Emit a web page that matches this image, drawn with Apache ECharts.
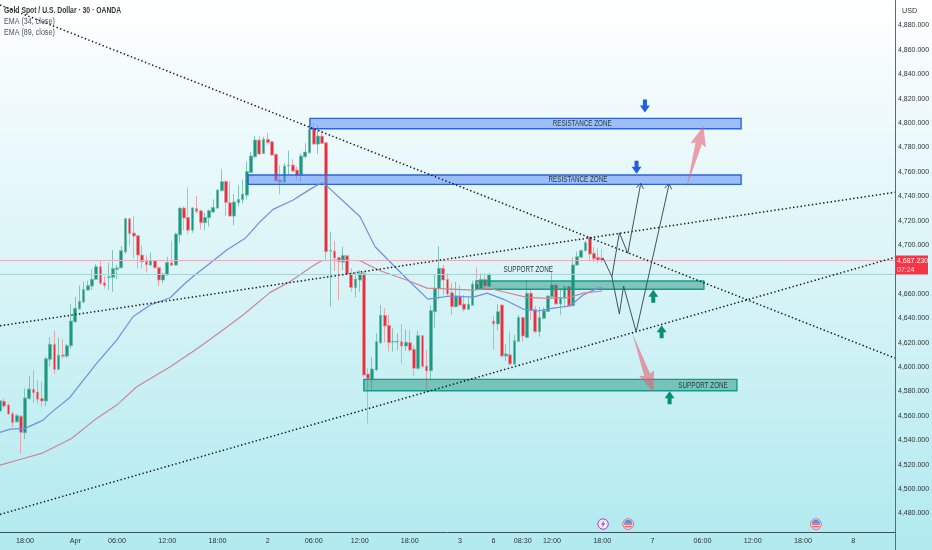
<!DOCTYPE html>
<html>
<head>
<meta charset="utf-8">
<style>html,body{margin:0;padding:0;background:#fff}#c{width:932px;height:550px}</style>
<script src="https://cdn.jsdelivr.net/npm/echarts@6/dist/echarts.min.js"></script>
</head>
<body>
<div id="c"></div>
<script>
// open, close, low, high per 30-minute bar
const candles = [
[4563.9,4572.4,4560.7,4573],[4571.9,4568,4566.1,4574.3],[4568.9,4561.5,4560.7,4570.2],[4561.8,4554.4,4550.6,4563.4],
[4555.2,4560.1,4554.4,4561.5],[4559.6,4546.5,4529.3,4560.7],[4546.2,4574.6,4541,4582.5],[4574.3,4582,4573,4592.6],
[4581.7,4579,4570.8,4597.6],[4579.5,4573.5,4570.2,4589.4],[4574.3,4572.1,4567.5,4588],[4572.1,4606.8,4568,4608.5],
[4606.3,4618.6,4600.3,4624.3],[4618.6,4598.1,4594.3,4629.8],[4598.1,4609.6,4597.6,4624.3],[4609.8,4608.8,4607.1,4622.7],
[4609,4617.5,4607.1,4618.9],[4617.5,4637.7,4615.3,4651.4],[4637.2,4648.1,4636.3,4657.7],[4647.8,4653.8,4646.7,4666.7],
[4653.3,4663.4,4652.2,4670],[4663.1,4666.7,4662.6,4670.8],[4666.4,4671.9,4663.1,4680],[4671.9,4682.2,4671.3,4684.4],
[4682.2,4668.6,4667.2,4687.2],[4669.1,4666.9,4664.2,4674.6],[4673.5,4674,4663.1,4685.5],[4673.5,4680.6,4661.8,4695.9],
[4680.1,4681.2,4671.9,4683.6],[4681.4,4695.3,4680.8,4699.1],[4694.5,4721.5,4692.6,4722.4],[4721.5,4709.5,4699.1,4722.6],
[4709.8,4707.3,4689,4723.7],[4707.6,4691.8,4680.8,4708.1],[4691.8,4686.3,4680.8,4699.9],[4686.6,4683.8,4677.5,4691.8],
[4683.6,4687.1,4683,4693.9],[4687.1,4681.4,4680.3,4687.7],[4681.4,4671.3,4666.3,4682.7],[4671.3,4676.2,4668.5,4677.3],
[4675.4,4685.7,4674.8,4690.4],[4685.5,4683.3,4682.8,4703.5],[4683.6,4709,4683,4710],[4708.4,4730.3,4701.8,4730.8],
[4730.3,4722.1,4712.2,4731.9],[4722.6,4712.2,4709,4747.2],[4712.2,4730.3,4710.1,4731],[4730,4727.5,4725.9,4740.1],
[4728.1,4718.3,4712.8,4729.2],[4718.3,4722.6,4712.2,4726.4],[4722.4,4728.1,4715,4729.2],[4727,4730.8,4726.4,4737.4],
[4730.3,4745,4729.7,4745.6],[4744.5,4751.9,4744,4762],[4752.1,4734.9,4723.7,4752.7],[4734.6,4723.7,4723.2,4752.1],
[4723.7,4735.2,4716.1,4741.7],[4734.6,4737.4,4731.4,4748.9],[4737.4,4741.7,4734.1,4753.8],[4740.9,4760.3,4737.4,4768.2],
[4759.5,4772.9,4758.7,4776.4],[4772.4,4786,4771.5,4789.3],[4786,4774.5,4773.7,4789.3],[4775.1,4786.6,4774.5,4788.7],
[4786.6,4784.1,4781.9,4792],[4784.6,4773.7,4773.2,4785.5],[4774.3,4752.7,4751.9,4775],[4753.2,4751.6,4741.5,4765.5],
[4751.6,4764.7,4751,4766.9],[4765,4765.5,4757.3,4777.3],[4765.5,4760.6,4759.5,4770.2],[4761.4,4757.3,4753.2,4764.2],
[4757.3,4772.9,4751.9,4775],[4772.4,4776.2,4771,4783.3],[4775.6,4794.8,4775,4796.9],[4794.8,4782.7,4781.9,4799.7],
[4782.7,4789.3,4774.5,4798.3],[4789.3,4783.3,4782.7,4794.2],[4783.8,4694.5,4687.7,4784.6],[4695,4695.6,4649.4,4710.9],
[4695,4689.3,4678.6,4703.5],[4689.8,4686.3,4654.9,4690.4],[4686,4691.5,4679.5,4698.6],[4691.2,4676.2,4675.4,4691.8],
[4676.7,4665.2,4661.7,4680.8],[4665,4672.1,4657.1,4678.1],[4671.3,4676.7,4661.7,4679.5],[4676.8,4593.5,4592.1,4678.1],
[4594.3,4590.7,4553.8,4598.9],[4589.9,4598.4,4581.2,4607.9],[4597.6,4620.8,4597,4627.6],[4620,4642.4,4618.9,4650.8],
[4642.4,4633.6,4620,4648.1],[4634.2,4620,4612.6,4642.6],[4620.5,4621,4612.6,4631.7],[4620.5,4621,4613.9,4627.6],
[4620.8,4617.2,4603,4635.2],[4617.2,4620.2,4613.4,4630.9],[4620,4613.9,4612.6,4630.3],[4614.5,4598.9,4592.6,4618],
[4598.9,4625.7,4597.6,4629.8],[4625.7,4600.3,4599.7,4626.3],[4600.8,4596.7,4579.8,4613.9],[4597,4646.2,4589.4,4650.6],
[4645.4,4664.5,4631.7,4676.2],[4664.5,4680.9,4655.5,4699.2],[4680.9,4671.3,4659,4683.6],[4671.9,4659.8,4657.7,4676.8],
[4660.9,4649.5,4642.6,4668.6],[4649.5,4658.2,4648.9,4669.9],[4658.2,4650.8,4650.3,4667.2],[4651.6,4647.3,4645.4,4659],
[4647.3,4651.4,4646.7,4657.7],[4650.6,4668,4650.3,4670.8],[4668,4663.7,4663.1,4681.7],[4663.8,4671.9,4663.1,4676.8],
[4671.9,4666.4,4663.1,4676.8],[4666.2,4676,4665.5,4677.3],[4637.7,4635.3,4614.5,4641.8],[4635.3,4645.4,4630.3,4651.7],
[4650.8,4609,4608,4651.2],[4609,4610.7,4605.2,4618.9],[4610.1,4602.5,4600.8,4629],[4602.5,4621.6,4601.7,4626.2],
[4621.1,4640.5,4620.5,4642.6],[4640.5,4625.4,4620.5,4641.3],[4624.3,4660.4,4623.5,4671.3],[4660.4,4646.7,4638.5,4663.7],
[4647.3,4629,4627.6,4650],[4629,4640.5,4624.9,4648.9],[4639.9,4646.2,4639.1,4648.9],[4645.6,4658.2,4645.1,4659],
[4657.7,4667.2,4657.1,4678.2],[4667.2,4651.7,4650.8,4668],[4651.7,4656.8,4642.6,4664.5],[4656.3,4665.3,4648.9,4667.2],
[4665.9,4650.3,4650,4666.4],[4650.3,4683.6,4649.5,4689.9],[4683.6,4690.4,4683,4694.5],[4689.9,4695.4,4689.4,4696.5],
[4695.4,4701.9,4694.8,4703.6],[4706.3,4692.6,4687.7,4706.8],[4693.2,4688.8,4685.5,4698.1],[4689.9,4687.7,4685,4697.3],
[4689.4,4687.23,4685.8,4696.5]
];
const barCount = 215;
const tickBars = [6,18,28,40,52,64,75,86,98,110,118,125,132,144,156,168,180,192,204];
const tickLabels = ['18:00','Apr','06:00','12:00','18:00','2','06:00','12:00','18:00','3','6','08:30','12:00','18:00','7','06:00','12:00','18:00','8'];
const priceTicks = [4880,4860,4840,4820,4800,4780,4760,4740,4720,4700,4660,4640,4620,4600,4580,4560,4540,4520,4500,4480];
const lastPrice = 4687.23;
const secondLevel = 4675.8;
const ema34Bars = [0,2.4,6,10.3,12,16.7,23.1,27.9,31.8,35.9,40.7,43.8,46.6,50.9,54.2,58.6,62.2,65.3,70.1,74.1,76.9,78.2,86.1,89.7,94,98,102.3,104,107.6,113.1,116.5,120.3,125.1,128.6,132.2,136.3,139.4,143,144];
const ema34 = [4546.4,4549.1,4549.7,4556.5,4562,4575.1,4603,4622.1,4641.2,4650.8,4656.8,4667.2,4675.4,4686.9,4695.9,4705.5,4719.1,4729.2,4736.9,4745.6,4751,4748.3,4723.2,4698.6,4683.6,4669.9,4655.7,4656.5,4658.2,4657.3,4660.6,4655.7,4647.5,4645.9,4648.3,4650,4659,4664.7,4665];
const ema89Bars = [0,5.2,10.3,17.1,23.1,27.9,32.7,40.7,47.8,53.3,58.1,64.6,69.3,74.5,76.9,81.3,86.1,90.9,97.2,102.1,109.2,113.1,117.2,120.3,126,130.8,136.3,139.4,144];
const ema89 = [4519.6,4524.6,4529.7,4541.5,4557.9,4568.8,4583.8,4600.2,4616.6,4630.3,4642.6,4661.2,4669.9,4682.2,4687.1,4687.7,4687.1,4678.9,4671.3,4664.7,4663.7,4663.1,4664.5,4661.7,4657.1,4656.3,4657.1,4660.6,4662.3];
// trend lines: [bar, price] end points
const trendDown = [[0,4896.7],[214,4607.3]];
const trendMid = [[0,4633.8],[214,4743.2]];
const trendLow = [[0,4479.2],[214,4689.9]];
// zones: start bar, end bar, top price, bottom price
const resistanceZones = [[74.1,177.2,4803.8,4795.3],[59.3,177.2,4757.4,4749.7]];
const supportZones = [[113.8,168.3,4670.5,4663.7],[87,176.2,4589.9,4580.6]];
const resistanceLabels = [[139.2,4799.5],[138.2,4753.7]];
const supportLabels = [[126.3,4679.5],[168.1,4584.4]];
const zoneLabelTexts = ['RESISTANCE ZONE','SUPPORT ZONE'];
const pathA = [[144.2,4689.3],[146.3,4674],[148.1,4710],[150.1,4693.2],[153.2,4750.5]];
const pathB = [[146.3,4674],[148.1,4643.4],[149.1,4666.4],[152.1,4628.9],[160,4750]];
// big arrows: tail bar, tail price, tip bar, tip price
const bigArrows = [[164.2,4747.5,168.2,4797.5],[151.2,4627.6,156.2,4579.7]];
const blueArrows = [[154.2,4813.9],[152.2,4763.7]];
const greenArrows = [[156.2,4658.1],[158.2,4628.9],[160.1,4574.8]];
const newsEvents = [[144.2,4471.3,'bolt'],[150.2,4471.3,'flag'],[195.1,4471.3,'flag']];
const legendLines = ['Gold Spot / U.S. Dollar · 30 · OANDA','EMA (34, close)','EMA (89, close)'];

const FONT = '"Liberation Sans",Arial,sans-serif';
const TXT = '#2a3438';
const categories = Array.from({length:barCount},(_,i)=>{const k=tickBars.indexOf(i);return k>=0?tickLabels[k]:'';});

function line(data,name){
  return {type:'line',name,data,xAxisIndex:1,yAxisIndex:0,symbol:'none',silent:true,z:5,
    lineStyle:{color:'#141b1e',width:1.5,type:[1.4,2.4],cap:'butt'}};
}
function zoneSeries(rows,labels,text,fill,stroke){
  return {type:'custom',xAxisIndex:1,yAxisIndex:0,silent:true,z:4,data:rows,
    encode:{x:[0,1],y:[2,3]},
    renderItem(params,api){
      const a=api.coord([api.value(0),api.value(2)]), b=api.coord([api.value(1),api.value(3)]);
      const l=api.coord(labels[params.dataIndex]);
      return {type:'group',children:[
        {type:'rect',shape:{x:a[0],y:a[1],width:b[0]-a[0],height:b[1]-a[1]},
          style:{fill,stroke,lineWidth:1.4}},
        {type:'text',x:l[0],y:l[1],scaleX:0.74,style:{text,fill:'#2b3a40',font:'8.5px '+FONT,align:'center',verticalAlign:'middle'}}
      ]};
    }};
}
function pathSeries(pts){
  return {type:'custom',xAxisIndex:1,yAxisIndex:0,silent:true,z:6,data:[0],
    encode:{x:[],y:[]},
    renderItem(params,api){
      const p=pts.map(q=>api.coord(q));
      const t=p[p.length-1],s=p[p.length-2];
      const ang=Math.atan2(t[1]-s[1],t[0]-s[0]);
      const w=a=>[t[0]-6*Math.cos(ang+a),t[1]-6*Math.sin(ang+a)];
      const lw={stroke:'#3f5559',lineWidth:1,fill:null};
      return {type:'group',children:[
        {type:'polyline',shape:{points:p},style:lw},
        {type:'polyline',shape:{points:[w(0.65),t,w(-0.65)]},style:lw}
      ]};
    }};
}
const option = {
  animation:false,
  backgroundColor:{type:'linear',x:0,y:0,x2:0,y2:1,colorStops:[
    {offset:0,color:'#ffffff'},{offset:.5,color:'#d9f4f7'},{offset:1,color:'#b0eaef'}]},
  textStyle:{fontFamily:FONT},
  grid:{left:0,top:0,width:895,height:532,containLabel:false,outerBoundsMode:'none'},
  xAxis:[
    {type:'category',data:categories,boundaryGap:false,min:0,max:barCount-1,
     axisLine:{onZero:false,lineStyle:{color:'#38555c',width:1}},axisTick:{show:false},splitLine:{show:false},
     axisLabel:{interval:0,color:TXT,fontSize:7.2,fontFamily:FONT,margin:5.5,hideOverlap:false}},
    {type:'value',min:0,max:barCount-1,show:false,position:'top',splitLine:{show:false}}
  ],
  yAxis:[{type:'value',position:'right',scale:true,min:4464.8,max:4900.8,
    name:'USD',nameLocation:'end',nameGap:-11,nameRotate:0,
    nameTextStyle:{color:TXT,fontSize:7.2,fontFamily:FONT,align:'left',padding:[0,0,0,7],verticalAlign:'middle'},
    axisLine:{show:true,onZero:false,lineStyle:{color:'#5f6a6e',width:1}},axisTick:{show:false},splitLine:{show:false},
    axisLabel:{customValues:priceTicks,color:TXT,fontSize:7,fontFamily:FONT,margin:3,
      formatter:v=>v.toLocaleString('en-US',{minimumFractionDigits:3})}}],
  graphic:[
    {type:'line',shape:{x1:895.5,y1:532,x2:895.5,y2:550},style:{stroke:'#5f6a6e',lineWidth:1},silent:true},
    {type:'text',x:4,y:6,scaleX:0.8,z:20,silent:true,style:{text:legendLines[0],fill:'#2f383c',font:'bold 8.5px '+FONT}},
    {type:'text',x:4,y:17,scaleX:0.84,z:20,silent:true,style:{text:legendLines[1],fill:'#4a5358',font:'8.5px '+FONT}},
    {type:'text',x:4,y:28,scaleX:0.84,z:20,silent:true,style:{text:legendLines[2],fill:'#4a5358',font:'8.5px '+FONT}}
  ],
  series:[
    {type:'candlestick',name:'XAUUSD',data:candles,xAxisIndex:0,yAxisIndex:0,barWidth:3.2,z:3,silent:true,
      itemStyle:{color:'#169a83',color0:'#e72f3d',borderColor:'#6fb8a6',borderColor0:'#e7949d',borderWidth:0.8,
        borderColorDoji:'#6fb8a6'}},
    {type:'line',name:'EMA 34',data:ema34Bars.map((b,i)=>[b,ema34[i]]),xAxisIndex:1,yAxisIndex:0,symbol:'none',z:4,silent:true,
      lineStyle:{color:'#6f8fdf',width:1.2}},
    {type:'line',name:'EMA 89',data:ema89Bars.map((b,i)=>[b,ema89[i]]),xAxisIndex:1,yAxisIndex:0,symbol:'none',z:4,silent:true,
      lineStyle:{color:'#cf8497',width:1.2}},
    {type:'line',name:'levels',data:[],xAxisIndex:1,yAxisIndex:0,silent:true,z:2,
      markLine:{silent:true,symbol:'none',animation:false,
        data:[
          {yAxis:secondLevel,lineStyle:{color:'#a9d3d3',width:1,type:'solid'},label:{show:false}},
          {yAxis:lastPrice,lineStyle:{color:'#e7aeb9',width:1,type:'solid'},
           label:{show:true,position:'end',distance:0,offset:[0,4.5],width:30,
             formatter:'{a|4,687.230}\n{b|07:24}',backgroundColor:'#f23645',padding:[1,1,0,2],
             rich:{a:{color:'#fff',fontSize:7,fontFamily:FONT,lineHeight:9,align:'left'},
                   b:{color:'#ffd5da',fontSize:7,fontFamily:FONT,lineHeight:9,align:'left'}}}}
        ]}},
    line(trendDown,'trend down'),line(trendMid,'trend mid'),line(trendLow,'trend low'),
    zoneSeries(resistanceZones,resistanceLabels,zoneLabelTexts[0],'rgba(92,140,248,.55)','#2b64dc'),
    zoneSeries(supportZones,supportLabels,zoneLabelTexts[1],'rgba(18,140,118,.45)','#0f9d88'),
    pathSeries(pathA),pathSeries(pathB),
    {type:'custom',xAxisIndex:1,yAxisIndex:0,silent:true,z:7,data:bigArrows,encode:{x:[0,2],y:[1,3]},
      renderItem(params,api){
        const s=api.coord([api.value(0),api.value(1)]),t=api.coord([api.value(2),api.value(3)]);
        const dx=t[0]-s[0],dy=t[1]-s[1],L=Math.hypot(dx,dy),ux=dx/L,uy=dy/L,nx=-uy,ny=ux;
        const n=L-18;
        const P=(a,b)=>[s[0]+ux*a+nx*b,s[1]+uy*a+ny*b];
        return {type:'polygon',shape:{points:[P(0,0),P(n,3.2),P(n-2,8),t,P(n-2,-8),P(n,-3.2)]},
          style:{fill:'rgba(232,92,112,.58)'}};
      }},
    {type:'scatter',data:blueArrows,xAxisIndex:1,yAxisIndex:0,silent:true,z:7,
      symbol:'path://M3,0 H7 V6 H10 L5,13 L0,6 H3 Z',symbolSize:[10,13],itemStyle:{color:'#1f5fe6',opacity:1}},
    {type:'scatter',data:greenArrows,xAxisIndex:1,yAxisIndex:0,silent:true,z:7,
      symbol:'path://M5,0 L10,7 H7 V13 H3 V7 H0 Z',symbolSize:[10,13],itemStyle:{color:'#078f73',opacity:1}},
    {type:'custom',xAxisIndex:1,yAxisIndex:0,silent:true,z:7,data:newsEvents,encode:{x:0,y:1},
      renderItem(params,api){
        const c=api.coord([api.value(0),api.value(1)]);
        const kind=newsEvents[params.dataIndex][2],x=c[0],y=c[1];
        if(kind==='bolt'){
          return {type:'group',children:[
            {type:'circle',shape:{cx:x,cy:y,r:5.2},style:{fill:'#f3e9fa',stroke:'#a23fc6',lineWidth:1}},
            {type:'polygon',shape:{points:[[x+1,y-3.5],[x-2,y+.5],[x-.2,y+.5],[x-1,y+3.5],[x+2,y-.7],[x+.2,y-.7]]},style:{fill:'#a23fc6'}}
          ]};
        }
        return {type:'group',children:[
          {type:'circle',shape:{cx:x,cy:y,r:5.4},style:{fill:'#f6dfe2',stroke:'#e07080',lineWidth:1}},
          {type:'rect',shape:{x:x-4,y:y-.5,width:8,height:1.2},style:{fill:'#e8596a'}},
          {type:'rect',shape:{x:x-3.5,y:y+2,width:7,height:1.2},style:{fill:'#e8596a'}},
          {type:'sector',shape:{cx:x,cy:y-.4,r0:0,r:4,startAngle:Math.PI,endAngle:Math.PI*2},style:{fill:'#5b93e8'}}
        ]};
      }}
  ]
};
const chart = echarts.init(document.getElementById('c'),null,{renderer:'canvas',width:932,height:550});
chart.setOption(option);
</script>
</body>
</html>
